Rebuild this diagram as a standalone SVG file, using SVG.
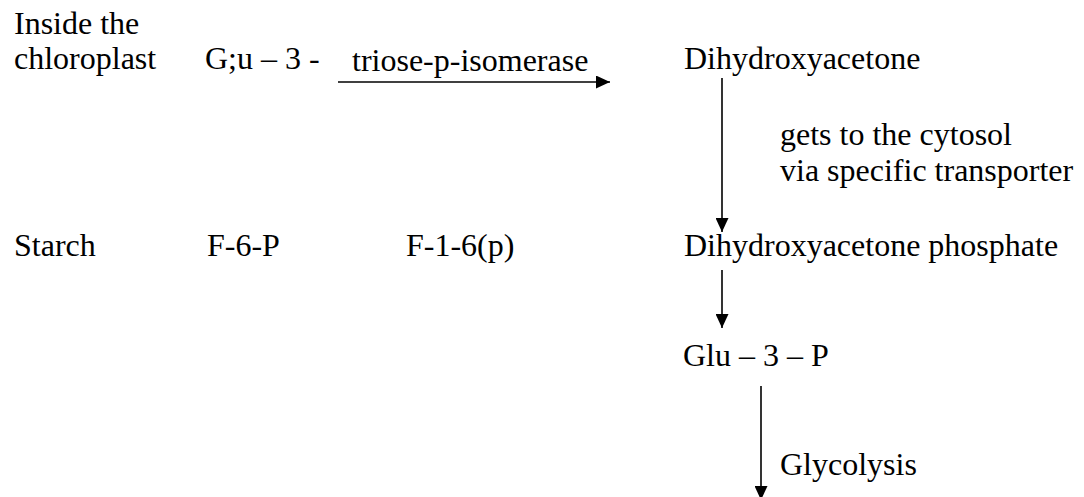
<svg xmlns="http://www.w3.org/2000/svg" width="1084" height="497" viewBox="0 0 1084 497">
<defs>
<style>
text{font-family:"Liberation Serif","Times New Roman",serif;font-size:32px;fill:#000}
.ln{stroke:#000;stroke-width:1.6;fill:none}
</style>
<marker id="ah" viewBox="0 0 14 13" refX="14" refY="6.5" markerWidth="14" markerHeight="13" markerUnits="userSpaceOnUse" orient="auto">
<path d="M0,0 L14,6.5 L0,13 Z" fill="#000"/>
</marker>
</defs>
<rect width="1084" height="497" fill="#fff"/>
<g id="n-inside"><text x="14" y="34">Inside the</text><text x="14" y="69">chloroplast</text></g>
<g id="n-glu3-chloro"><text x="205" y="69">G;u – 3 -</text></g>
<g id="n-dihydroxyacetone"><text x="684" y="69">Dihydroxyacetone</text></g>
<g id="n-starch"><text x="14" y="256">Starch</text></g>
<g id="n-f6p"><text x="207" y="256">F-6-P</text></g>
<g id="n-f16p"><text x="406" y="256">F-1-6(p)</text></g>
<g id="n-dhap"><text x="684" y="256">Dihydroxyacetone phosphate</text></g>
<g id="n-glu3p"><text x="683" y="366">Glu – 3 – P</text></g>
<g id="connectors">
<line class="ln" x1="338" y1="82" x2="610" y2="82" marker-end="url(#ah)"/>
<text x="352" y="71">triose-p-isomerase</text>
<line class="ln" x1="722" y1="78" x2="722" y2="232" marker-end="url(#ah)"/>
<text x="780" y="145">gets to the cytosol</text>
<text x="780" y="181">via specific transporter</text>
<line class="ln" x1="722" y1="270" x2="722" y2="328" marker-end="url(#ah)"/>
<line class="ln" x1="761" y1="386" x2="761" y2="500" marker-end="url(#ah)"/>
<text x="780" y="475">Glycolysis</text>
</g>
</svg>
